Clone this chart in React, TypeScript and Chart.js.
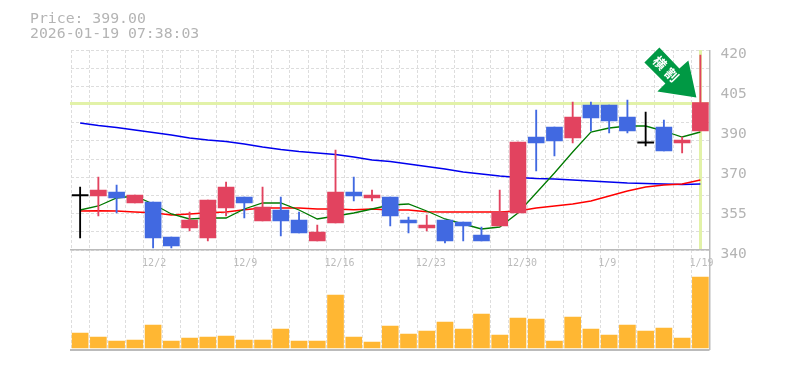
import React, { useEffect, useRef } from "react";
import { Chart, registerables } from "chart.js";

Chart.register(...registerables);

const categories = ["", "", "", "", "12/2", "", "", "", "", "12/9", "", "", "", "", "12/16", "", "", "", "", "12/23", "", "", "", "", "12/30", "", "", "", "", "1/9", "", "", "", "", "1/19"];
const opens = [361.9, 361.6, 363.2, 358.8, 359.2, 345.2, 348.8, 344.8, 356.8, 361.2, 351.6, 356, 352, 343.6, 350.8, 363.2, 360.8, 361.2, 352, 348.8, 352, 351.2, 346, 349.6, 354.8, 385.2, 389.2, 384.8, 398, 398, 393.2, 383, 389.2, 382.8, 387.6];
const closes = [361.9, 364, 360.8, 362, 344.8, 341.6, 352, 360, 365.2, 358.8, 357.2, 351.6, 346.8, 347.2, 363.2, 361.6, 362, 353.6, 350.8, 350, 343.6, 349.6, 343.6, 355.2, 383.2, 382.8, 383.6, 393.2, 392.8, 391.6, 387.6, 383, 379.6, 384, 399];
const highs = [365.2, 369.2, 366, 362, 359.2, 345.2, 355.2, 360, 367.2, 361.2, 365.2, 361.2, 355.2, 350, 380, 369.2, 364, 361.2, 353.2, 354, 352, 351.2, 349.2, 364, 383.2, 396, 389.2, 399.2, 399.2, 398, 400, 395.2, 392, 385.2, 418];
const lows = [344.8, 353.6, 354.8, 358.8, 340.8, 340.8, 347.6, 343.6, 353.6, 352.8, 351.6, 345.6, 346.8, 343.6, 350.8, 359.6, 359.6, 349.6, 346.8, 347.6, 342.8, 343.6, 343.6, 349.6, 354.8, 371.6, 377.6, 382.8, 387.6, 386.8, 386.8, 381.6, 379.6, 378.8, 387.6];
const maShort = [356, 357.6, 360.8, 361.6, 358.4, 354.4, 352.4, 352.8, 352.8, 356.4, 358.8, 358.8, 356, 352.4, 353.6, 354.8, 356.4, 358, 358.4, 355.6, 352.4, 350.4, 348.4, 349.2, 354.8, 362.8, 370.8, 379.2, 387.2, 388.8, 389.6, 389.6, 387.6, 385.2, 387.2];
const maMid = [355.6, 355.7, 355.6, 355.2, 354.9, 354, 354.4, 354.9, 355.2, 356.1, 356.8, 356.8, 356.8, 356.4, 356.4, 356.1, 356.4, 356, 356, 355.3, 355.2, 355.2, 355.2, 355.2, 355.6, 356.8, 357.6, 358.4, 359.6, 361.6, 363.6, 365.2, 366, 366.4, 368];
const maLong = [390.8, 389.8, 389, 388, 387, 386, 384.8, 384, 383.4, 382.4, 381.2, 380.2, 379.4, 378.8, 378.2, 377.2, 376, 375.4, 374.4, 373.4, 372.4, 371.2, 370.4, 369.6, 369, 368.6, 368.4, 368, 367.6, 367.2, 366.8, 366.6, 366.4, 366.2, 366.4];
const volumes = [15, 11, 7, 8, 23, 7, 10, 11, 12, 8, 8, 19, 7, 7, 53, 11, 6, 22, 14, 17, 26, 19, 34, 13, 30, 29, 7, 31, 19, 13, 23, 17, 20, 10, 71];
const priceTickValues = [340, 356, 372, 388, 404, 420];
const priceTickLabels = ["340", "355", "370", "390", "405", "420"];
const currentPrice = 399;
const headerLines = ["Price: 399.00", "2026-01-19 07:38:03"];
const arrowText = ["横", "割"];

const RED = "#E2435F";
const BLUE = "#4169E1";
const BLACK = "#000000";
const GRID = "#DDDDDD";
const FRAME = "#BBBBBB";
const LIME = "#E2F2A8";
const ARROW = "#009944";
const MONO = '"DejaVu Sans Mono", monospace';

const candleColor = (i: number) =>
  opens[i] === closes[i] ? BLACK : closes[i] > opens[i] ? RED : BLUE;
const colors = categories.map((_, i) => candleColor(i));

const overlay = {
  id: "overlay",
  beforeDatasetsDraw(chart: any) {
    const { ctx, chartArea: a, scales } = chart;
    const y = scales.y;
    const x = scales.x;
    const last = categories.length - 1;
    const floor = y.getPixelForValue(340);
    ctx.save();
    ctx.fillStyle = LIME;
    ctx.fillRect(a.left - 1, Math.round(y.getPixelForValue(currentPrice)) - 1, a.right - a.left + 1, 3);
    ctx.fillRect(Math.round(x.getPixelForValue(last)) - 1, a.top, 3, floor - a.top);
    ctx.fillStyle = FRAME;
    ctx.fillRect(a.left - 1, Math.round(floor) - 1, a.right - a.left + 1, 1.5);
    ctx.fillRect(a.left - 1, a.bottom - 1, a.right - a.left + 1, 2);
    ctx.fillRect(a.right - 0.5, a.top, 1.5, a.bottom - a.top);
    ctx.restore();
  },
  afterDatasetsDraw(chart: any) {
    const { ctx, scales } = chart;
    const last = categories.length - 1;
    const tx = scales.x.getPixelForValue(last) - 4;
    const ty = scales.y.getPixelForValue(currentPrice) - 5;
    const outline = [
      [0, 0], [-8, -37], [-17, -29], [-37, -50], [-52, -35], [-31, -14], [-39, -6],
    ];
    ctx.save();
    ctx.fillStyle = ARROW;
    ctx.beginPath();
    outline.forEach(([dx, dy], i) =>
      i === 0 ? ctx.moveTo(tx + dx, ty + dy) : ctx.lineTo(tx + dx, ty + dy)
    );
    ctx.closePath();
    ctx.fill();
    ctx.fillStyle = "#FFFFFF";
    ctx.font = 'bold 13px "Noto Sans CJK JP"';
    ctx.textAlign = "center";
    ctx.textBaseline = "middle";
    ctx.translate(tx - 31, ty - 29);
    ctx.rotate(Math.PI / 4);
    ctx.fillText(arrowText[0], -8, 0);
    ctx.fillText(arrowText[1], 9, 0);
    ctx.restore();
  },
};

export default function App() {
  const ref = useRef<HTMLCanvasElement>(null);
  useEffect(() => {
    document.body.style.margin = "0";
    const chart = new Chart(ref.current!, {
      type: "bar",
      plugins: [overlay],
      data: {
        labels: categories,
        datasets: [
          {
            type: "bar",
            data: opens.map((o, i) => (o === closes[i] ? [o - 0.25, o + 0.25] : [o, closes[i]])),
            backgroundColor: colors,
            barThickness: 16,
            grouped: false,
            order: 0,
            yAxisID: "y",
          },
          {
            type: "bar",
            data: lows.map((l, i) => [l, highs[i]]),
            backgroundColor: colors,
            barThickness: 1.2,
            grouped: false,
            order: 1,
            yAxisID: "y",
          },
          {
            type: "line",
            data: maShort,
            borderColor: "#007A00",
            borderWidth: 1.3,
            pointRadius: 0,
            order: 2,
            yAxisID: "y",
          },
          {
            type: "line",
            data: maMid,
            borderColor: "#FF0000",
            borderWidth: 1.5,
            pointRadius: 0,
            order: 2,
            yAxisID: "y",
          },
          {
            type: "line",
            data: maLong,
            borderColor: "#0000EE",
            borderWidth: 1.5,
            pointRadius: 0,
            order: 2,
            yAxisID: "y",
          },
          {
            type: "bar",
            data: volumes,
            backgroundColor: "#FFB733",
            barThickness: 16,
            grouped: false,
            order: 3,
            yAxisID: "vol",
          },
        ] as any,
      },
      options: {
        responsive: false,
        animation: false,
        layout: { padding: { left: 71, top: 50, bottom: 20, right: 0 } },
        plugins: { legend: { display: false }, tooltip: { enabled: false } },
        scales: {
          x: {
            position: { y: 340 } as any,
            offset: true,
            border: { display: false, dash: [3, 2] },
            grid: {
              offset: true,
              color: GRID,
              lineWidth: 1,
              drawTicks: false,
            },
            ticks: {
              autoSkip: false,
              maxRotation: 0,
              align: "start",
              labelOffset: -11,
              padding: 7,
              color: FRAME,
              font: { family: MONO, size: 10 },
            },
          },
          y: {
            min: 300,
            max: 420,
            position: "left",
            border: { display: false, dash: [3, 2] },
            grid: { color: GRID, drawTicks: false },
            ticks: { display: false },
            afterFit: (s: any) => { s.width = 0; },
            afterBuildTicks: (s: any) => {
              s.ticks = Array.from({ length: 12 }, (_, k) => ({ value: 340 + (k * 80) / 11 }));
            },
          },
          labelsY: {
            min: 300,
            max: 420,
            position: "right",
            border: { display: false },
            grid: { display: false, drawTicks: false },
            afterFit: (s: any) => { s.width = 75.5; },
            afterBuildTicks: (s: any) => {
              s.ticks = priceTickValues.map((value) => ({ value }));
            },
            ticks: {
              autoSkip: false,
              padding: 11,
              labelOffset: 4,
              color: "#B4B4B4",
              font: { family: MONO, size: 14.5 },
              callback: (v: any) => priceTickLabels[priceTickValues.indexOf(Number(v))],
            },
          },
          vol: {
            min: -2,
            max: 298,
            display: false,
          },
        },
      } as any,
    });
    return () => chart.destroy();
  }, []);

  return (
    <div style={{ position: "relative", width: 785, height: 370 }}>
      <canvas ref={ref} width={785} height={370} style={{ display: "block" }} />
      <div
        style={{
          position: "absolute",
          left: 30,
          top: 10,
          color: "#B4B4B4",
          fontFamily: MONO,
          fontSize: 14.8,
          lineHeight: "15px",
          whiteSpace: "pre",
        }}
      >
        {headerLines.map((t) => (
          <div key={t}>{t}</div>
        ))}
      </div>
    </div>
  );
}
